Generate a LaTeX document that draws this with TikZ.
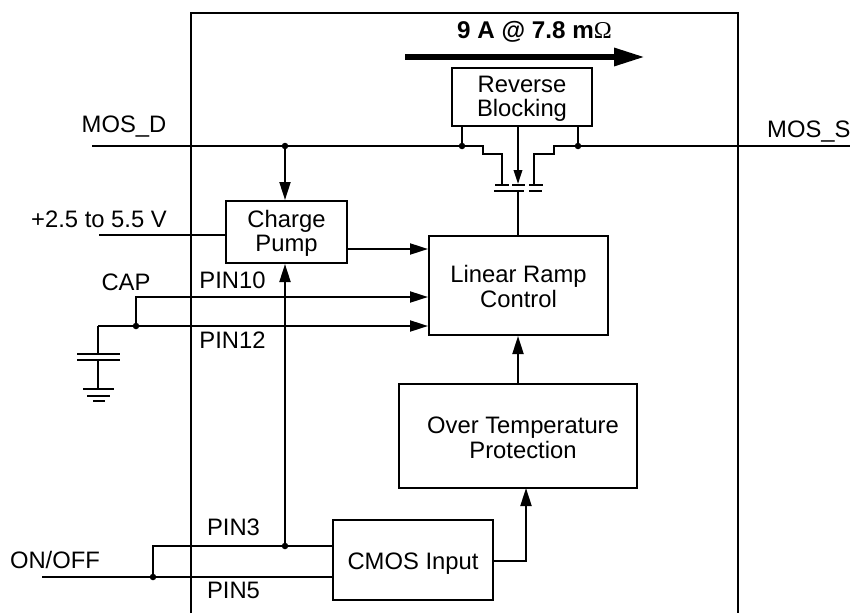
\documentclass[tikz,border=0pt]{standalone}
\usepackage{fontspec}
\setmainfont{Liberation Sans}
\newfontfamily\omegafont{Liberation Serif}
\usetikzlibrary{arrows.meta,calc}
\newcommand{\topgap}[1]{\rule{0pt}{#1}}
\tikzset{
  wire/.style={draw=black,line width=2pt},
  arr/.style={wire,-{Triangle[length=18pt,width=11pt]}},
  smallarr/.style={wire,-{Triangle[length=14pt,width=8.5pt]}},
  blockbox/.style={draw=black,line width=2pt,fill=white,inner sep=0pt,align=center,font=\fontsize{23.8}{24.5}\selectfont},
  lab/.style={inner sep=0pt,font=\fontsize{23.8}{25}\selectfont},
  junction/.style={circle,fill=black,inner sep=0pt,minimum size=6.5pt},
}
\begin{document}
\begin{tikzpicture}[x=1pt,y=-1pt]
\useasboundingbox (0,0) rectangle (850,613);
% outer block
\coordinate (ol) at (191,613); \coordinate (otl) at (191,13);
\coordinate (otr) at (738,13); \coordinate (or) at (738,613);
\draw[wire] (ol) -- (otl) -- (otr) -- (or);
% blocks
\node[blockbox,minimum width=140pt,minimum height=58pt] (rb) at (522,97) {\topgap{20pt}Reverse\\Blocking};
\node[blockbox,minimum width=121pt,minimum height=62pt] (cp) at (286.5,232) {\topgap{20pt}Charge\\Pump};
\node[blockbox,minimum width=179pt,minimum height=99pt] (lr) at (518.5,285.5) {\topgap{19pt}Linear Ramp\\Control};
\node[blockbox,minimum width=238pt,minimum height=104pt] (ot) at (518,436) {\topgap{20pt}\hspace*{10pt}Over Temperature\\\hspace*{10pt}Protection};
\node[blockbox,minimum width=160pt,minimum height=80pt] (cm) at (413,560) {\topgap{23pt}CMOS Input};
% current arrow
\coordinate (ca) at (405,57); \coordinate (cb) at (645,57);
\draw[line width=6pt,-{Triangle[length=31pt,width=17pt]}] (ca) -- (cb);
\node[lab,font=\bfseries\fontsize{24.2}{25}\selectfont] (cur) at (534.5,32) {9 A @ 7.8 m{\omegafont\mdseries Ω}};
% MOS bus
\coordinate (dl) at (92,146); \coordinate (sr) at (850,146);
\node[junction] (jd) at (285,146) {};
\node[junction] (j1) at (462,146) {};
\node[junction] (j2) at (578,146) {};
\coordinate (kl) at (483,146); \coordinate (kr) at (554,146);
\coordinate (sl) at (502,185); \coordinate (srr) at (534,185);
\draw[wire] (dl) -- (kl) |- (502,154) -- (sl);
\draw[wire] (sr) -- (kr) |- (534,154) -- (srr);
\draw[wire] (j1) -- (j1 |- rb.south);
\draw[wire] (j2) -- (j2 |- rb.south);
% MOS plates
\coordinate (p1a) at (495,185); \coordinate (p1b) at (509,185);
\coordinate (p2a) at (512,185); \coordinate (p2b) at (525,185);
\coordinate (p3a) at (529,185); \coordinate (p3b) at (543,185);
\coordinate (g1a) at (494,191); \coordinate (g1b) at (524,191);
\coordinate (g2a) at (529,191); \coordinate (g2b) at (542,191);
\draw[wire] (p1a) -- (p1b); \draw[wire] (p2a) -- (p2b); \draw[wire] (p3a) -- (p3b);
\draw[wire] (g1a) -- (g1b); \draw[wire] (g2a) -- (g2b);
\coordinate (gs) at (518,191); \coordinate (rs) at (518,184);
\draw[wire] (gs) -- (gs |- lr.north);
\draw[smallarr] (rs |- rb.south) -- (rs);
% charge pump
\draw[arr] (jd) -- (jd |- cp.north);
\coordinate (vin) at (99,235);
\draw[wire] (vin) -- (vin -| cp.west);
\coordinate (cpo) at (347,249);
\draw[arr] (cpo) -- (cpo -| lr.west);
% cap
\node[junction] (jc) at (136,326) {};
\coordinate (c10) at (136,297); \coordinate (c12) at (98,326);
\draw[arr] (jc) -- (c10) -- (c10 -| lr.west);
\draw[arr] (c12) -- (c12 -| lr.west);
\coordinate (ct) at (98,354); \coordinate (cbm) at (98,360); \coordinate (gt) at (98,389);
\draw[wire] (c12) -- (ct);
\draw[wire] (cbm) -- (gt);
\coordinate (a1) at (77,354); \coordinate (a2) at (120,354);
\coordinate (b1) at (77,360); \coordinate (b2) at (120,360);
\draw[wire] (a1) -- (a2); \draw[wire] (b1) -- (b2);
\coordinate (g1) at (83,389); \coordinate (g2) at (114,389);
\coordinate (g3) at (87,395.5); \coordinate (g4) at (110,395.5);
\coordinate (g5) at (93,401); \coordinate (g6) at (105,401);
\draw[wire] (g1) -- (g2); \draw[wire] (g3) -- (g4); \draw[wire] (g5) -- (g6);
% on/off
\coordinate (on) at (42,577);
\node[junction] (jo) at (153,577) {};
\node[junction] (jp) at (285,546) {};
\draw[wire] (on) -- (on -| cm.west);
\draw[wire] (jo) |- (jp) -- (jp -| cm.west);
\draw[arr] (jp) -- (jp |- cp.south);
% internal arrows
\coordinate (cmo) at (493,561); \coordinate (otx) at (526,488);
\draw[arr] (cmo) -| (otx);
\draw[arr] (ot.north) -- (ot.north |- lr.south);
% labels
\node[lab] (l1) at (124,126.5) {MOS\_D};
\node[lab,anchor=west] (l2) at (767,132) {MOS\_S};
\node[lab] (l3) at (99,219) {+2.5 to 5.5 V};
\node[lab] (l4) at (126,282) {CAP};
\node[lab] (l5) at (232.5,280) {PIN10};
\node[lab] (l6) at (232.5,340) {PIN12};
\node[lab] (l7) at (233.5,527) {PIN3};
\node[lab] (l8) at (233.5,590) {PIN5};
\node[lab] (l9) at (55,560) {ON/OFF};
\end{tikzpicture}
\end{document}
